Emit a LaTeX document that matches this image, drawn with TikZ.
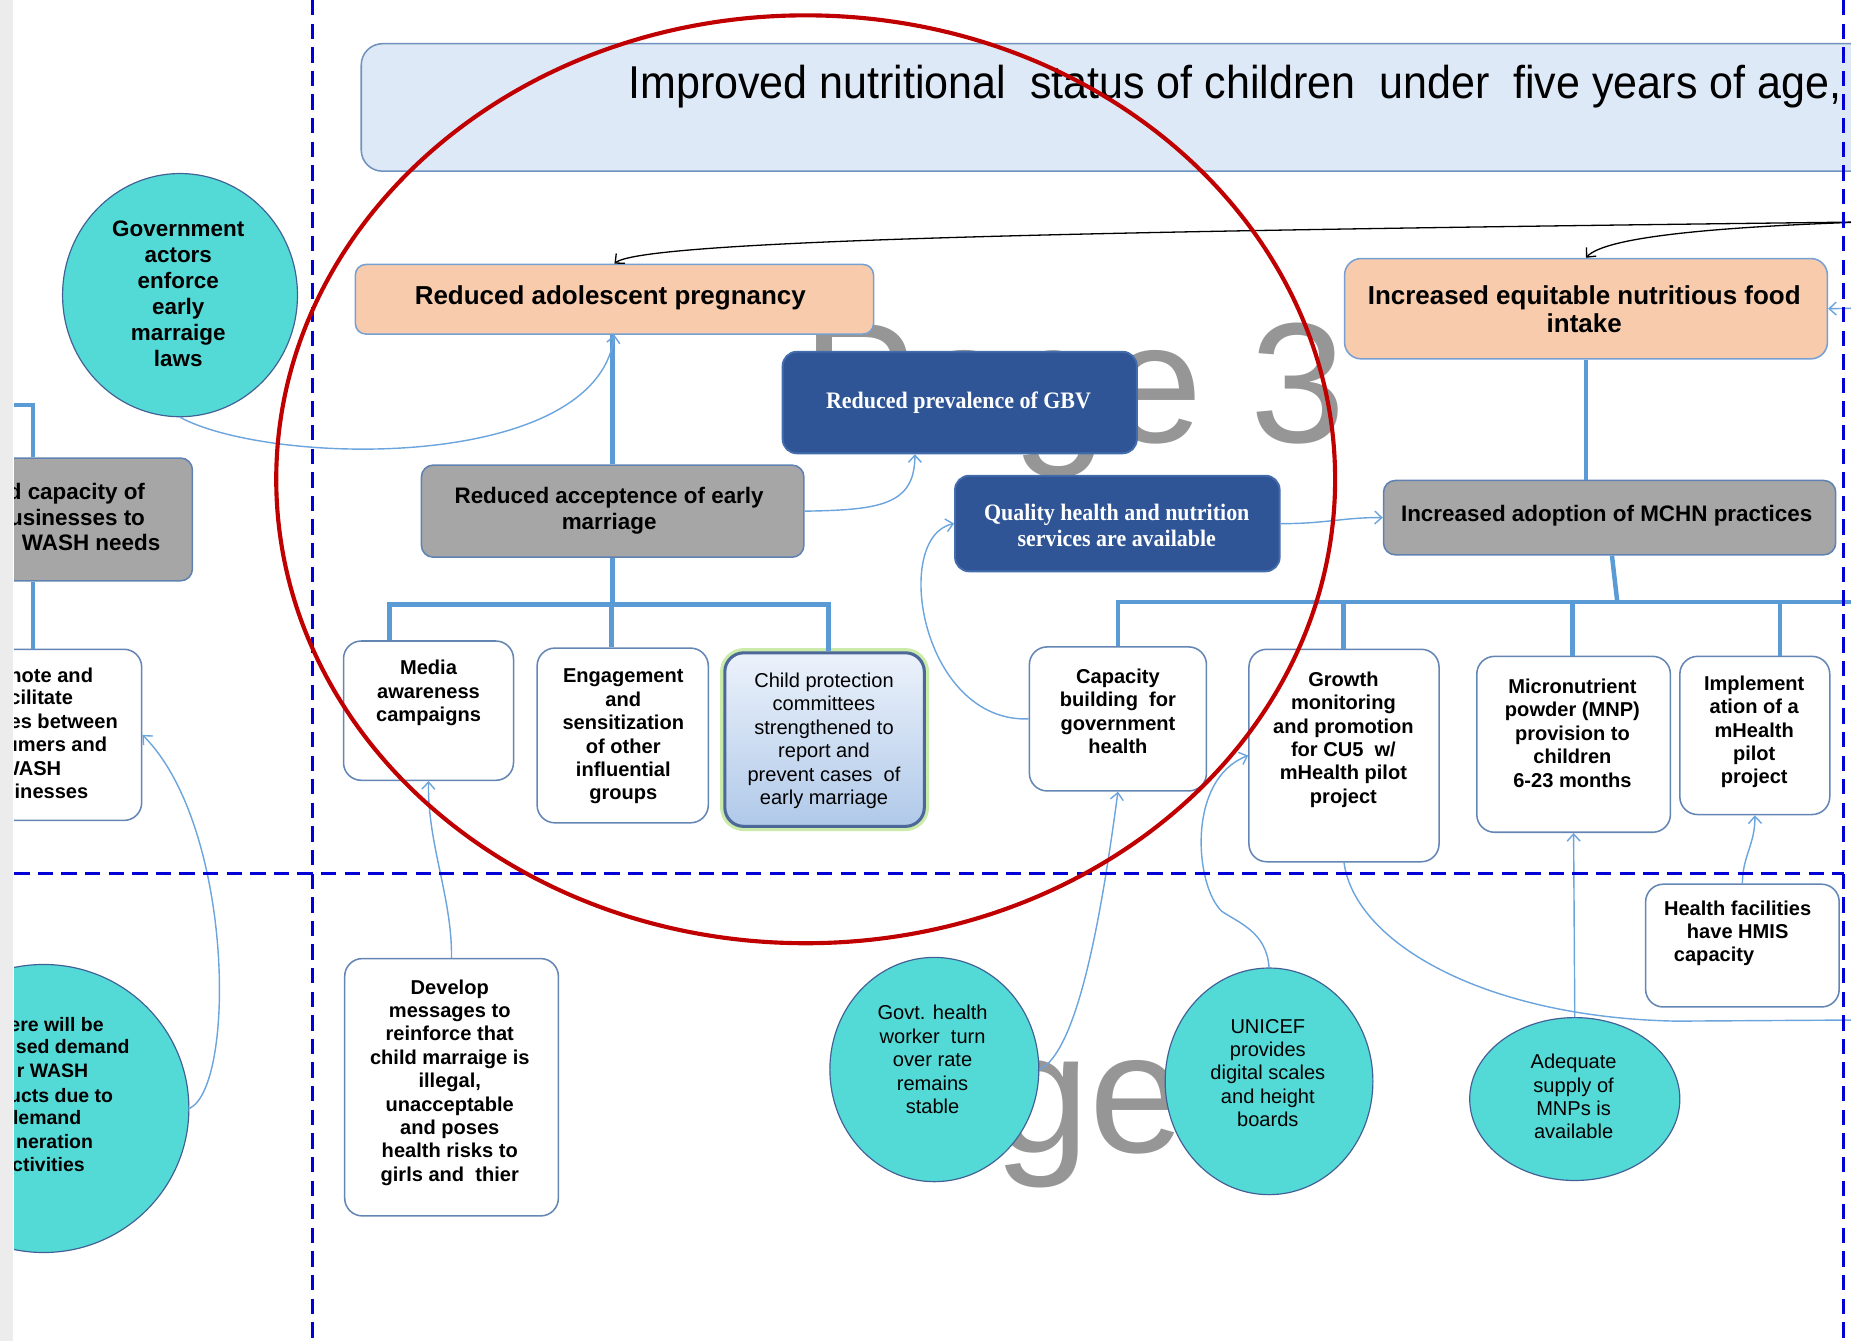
\documentclass[tikz,border=0pt]{standalone}
\usepackage{graphicx}
\usepackage{fontspec}
\setmainfont{Liberation Sans}
\newfontfamily\gbvfont{Liberation Serif}
\usetikzlibrary{shapes.geometric,arrows.meta}

\definecolor{cyanfill}{RGB}{84,218,214}
\definecolor{cyanline}{RGB}{66,96,150}
\definecolor{boxline}{RGB}{100,134,180}
\definecolor{peach}{RGB}{248,203,173}
\definecolor{peachline}{RGB}{118,160,210}
\definecolor{greyfill}{RGB}{166,166,166}
\definecolor{greyline}{RGB}{96,130,178}
\definecolor{navy}{RGB}{47,85,151}
\definecolor{navyline}{RGB}{68,108,172}
\definecolor{branch}{RGB}{91,155,213}
\definecolor{thinlink}{RGB}{108,164,222}
\definecolor{divider}{RGB}{0,0,215}
\definecolor{ring}{RGB}{192,0,0}
\definecolor{bannerfill}{RGB}{221,233,246}
\definecolor{bannerline}{RGB}{112,146,190}
\definecolor{watermark}{RGB}{150,150,150}
\definecolor{cpline}{RGB}{76,104,152}
\definecolor{cptop}{RGB}{236,242,251}
\definecolor{cpbottom}{RGB}{176,201,233}
\definecolor{glow}{RGB}{184,228,140}
\definecolor{strip}{RGB}{236,236,236}

\tikzset{
  boxbase/.style={inner sep=0pt, line width=1.3pt},
  whitebox/.style={boxbase, draw=boxline, fill=white, rounded corners=15pt},
  greybox/.style={boxbase, draw=greyline, fill=greyfill, rounded corners=10pt},
  peachbox/.style={boxbase, draw=peachline, fill=peach, rounded corners=9pt},
  navybox/.style={boxbase, draw=navyline, fill=navy, rounded corners=12pt, line width=1.6pt},
  bubble/.style={ellipse, inner sep=0pt, draw=cyanline, fill=cyanfill, line width=1pt},
  txtnode/.style={inner sep=0pt, align=center, text=black},
  boldtext/.style={txtnode, font=\bfseries\fontsize{17}{19.8}\selectfont},
  plaintext/.style={txtnode, font=\fontsize{17}{19.8}\selectfont},
  headtext/.style={txtnode, font=\bfseries\fontsize{22}{24}\selectfont},
  midtext/.style={txtnode, font=\bfseries\fontsize{19}{22}\selectfont},
  serifwhite/.style={txtnode, text=white, font=\gbvfont\bfseries\fontsize{20}{22}\selectfont},
  branchline/.style={draw=branch, line width=3.8pt, line join=miter},
  link/.style={draw=thinlink, line width=1.2pt, -{Straight Barb[length=6pt,width=11pt]}},
  plainlink/.style={draw=thinlink, line width=1.2pt},
  blacklink/.style={draw=black, line width=1.1pt, -{Straight Barb[length=6pt,width=11pt]}},
  divide/.style={draw=divider, line width=2.6pt, dash pattern=on 13pt off 7pt},
  faint/.style={anchor=base west, inner sep=0pt, text=watermark, font=\fontsize{145}{145}\selectfont},
}

\begin{document}
\begin{tikzpicture}[x=1pt,y=-1pt]
\useasboundingbox (0,0) rectangle (1568,1136);
\fill[strip] (0,0) rectangle (11,1136);

\begin{scope}
\clip (12,0) rectangle (1568,1136);

% page watermarks behind everything
\node[faint] (wm-top) at (680,375) {Page 3};
\node[faint] (wm-bottom) at (842,976) {ge};

% goal banner
\node[boxbase, draw=bannerline, fill=bannerfill, rounded corners=18pt,
      minimum width=1300pt, minimum height=108pt] (goal) at (956,91) {};
\node[anchor=west, inner sep=0pt, font=\fontsize{39}{40}\selectfont] (goal-t) at (532,73)
  {\scalebox{0.935}[1]{Improved nutritional\ \ status of children\ \ under\ \ five years of age,}};

% outcome boxes
\node[peachbox, minimum width=439pt, minimum height=59pt] (adol) at (520.5,253.5) {};
\node[peachbox, rounded corners=14pt, minimum width=409pt, minimum height=85pt] (food) at (1343.5,261.5) {};
\node[navybox, minimum width=300pt, minimum height=86pt] (gbv) at (813,341) {};
\node[navybox, minimum width=275pt, minimum height=81pt] (qual) at (946.5,443.5) {};
\node[greybox, minimum width=324pt, minimum height=78pt] (accept) at (519,433) {};
\node[greybox, minimum width=383pt, minimum height=63pt] (mchn) at (1363.5,438.5) {};
\node[greybox, minimum width=223pt, minimum height=104pt] (lcap) at (51.5,440) {};

% activity boxes
\node[whitebox, minimum width=180pt, minimum height=145pt] (lprom) at (30,622.5) {};
\node[whitebox, minimum width=144pt, minimum height=118pt] (media) at (363,602) {};
\node[whitebox, minimum width=145pt, minimum height=148pt] (engage) at (527.5,623) {};
\node[boxbase, draw=glow, line width=8pt, rounded corners=16pt, opacity=0.75,
      minimum width=169pt, minimum height=147pt] (child-glow) at (698.5,626.5) {};
\node[boxbase, draw=cpline, line width=2.6pt, rounded corners=16pt, top color=cptop, bottom color=cpbottom,
      minimum width=169pt, minimum height=147pt] (child) at (698.5,626.5) {};
\node[whitebox, minimum width=150pt, minimum height=122pt] (capac) at (947,609) {};
\node[whitebox, minimum width=161pt, minimum height=180pt] (growth) at (1138.5,640) {};
\node[whitebox, minimum width=164pt, minimum height=149pt] (micro) at (1333,630.5) {};
\node[whitebox, minimum width=127pt, minimum height=134pt] (impl) at (1486.5,623) {};
\node[whitebox, minimum width=164pt, minimum height=104pt] (hmis) at (1476,801) {};
\node[whitebox, minimum width=181pt, minimum height=218pt] (develop) at (382.5,921) {};

% assumption bubbles
\node[bubble, minimum width=199pt, minimum height=206pt] (govact) at (152.5,250) {};
\node[bubble, minimum width=246pt, minimum height=244pt] (lwash) at (37,939) {};
\node[bubble, minimum width=177pt, minimum height=190pt] (govt) at (791.5,906) {};
\node[bubble, minimum width=176pt, minimum height=192pt] (unicef) at (1075,916) {};
\node[bubble, minimum width=178pt, minimum height=138pt] (adeq) at (1334,931) {};

% branch lines
\coordinate (tl) at (330,512);
\coordinate (tm) at (518,512);
\coordinate (tr) at (702,512);
\draw[branchline] (accept.south) -- (accept.south |- tm);
\draw[branchline] (tl |- media.north) -- (tl) -- (tr) -- (tr |- child.north);
\draw[branchline] (tm) -- (tm |- engage.north);
\draw[branchline] (accept.north) -- (accept.north |- adol.south);
\draw[branchline] (food.south) -- (food.south |- mchn.north);

\coordinate (r0) at (947,510);
\coordinate (r1) at (1138,510);
\coordinate (r2) at (1332,510);
\coordinate (r3) at (1508,510);
\coordinate (rm) at (1370,510);
\coordinate (rend) at (1580,510);
\draw[branchline] (capac.north) -- (r0) -- (rend);
\draw[branchline] ([xshift=2pt]mchn.south) -- (rm);
\draw[branchline] (r1) -- (r1 |- growth.north);
\draw[branchline] (r2) -- (r2 |- micro.north);
\draw[branchline] (r3) -- (r3 |- impl.north);

\coordinate (lk0) at (0,343);
\coordinate (lk) at (28,343);
\draw[branchline] (lk0) -- (lk) -- (lk |- lcap.north);
\draw[branchline] (lk |- lcap.south) -- (lk |- lprom.north);

% thin causal links
\coordinate (gbvx) at (775,0);
\draw[link] (govact.south) .. controls (230,395) and (505,400) .. (adol.south);
\draw[link] (accept.east) .. controls (745,432) and (775,428) .. (gbv.south -| gbvx);
\draw[link] (qual.east) .. controls (1120,444) and (1140,438) .. (mchn.west);
\draw[link] (capac.west) .. controls (780,612) and (755,455) .. (qual.west);
\draw[link] (develop.north) .. controls (383,760) and (362,715) .. (media.south);
\draw[link] (govt.east) .. controls (915,890) and (935,760) .. (capac.south);
\draw[link] (unicef.north) .. controls (1073,790) and (1050,782) .. (1035,772)
            .. controls (1012,750) and (1005,660) .. (growth.west);
\draw[link] (adeq.north) -- (micro.south);
\draw[link] (hmis.north) .. controls (1476,725) and (1487,715) .. (impl.south);
\draw[link] (lwash.east) .. controls (200,920) and (198,700) .. (lprom.east);
\coordinate (edgeR) at (1580,864);
\draw[plainlink] (growth.south) .. controls (1148,800) and (1260,862) .. (1420,865) -- (edgeR);
\coordinate (foodsrc) at (1580,261);
\draw[link] (foodsrc) -- (food.east);

\coordinate (topsrc) at (1580,188);
\draw[blacklink] (topsrc) .. controls (1000,195) and (545,202) .. (adol.north);
\draw[blacklink] (topsrc) .. controls (1460,192) and (1360,200) .. (food.north);

% texts
\node[headtext] (adol-t) at (517,252) {Reduced adolescent pregnancy};
\node[headtext] (food-t) at (1342,262) {Increased equitable nutritious food\\intake};
\node[serifwhite] (gbv-t) at (812,341) {\scalebox{0.93}[1]{Reduced prevalence of GBV}};
\node[serifwhite] (qual-t) at (946,445) {\scalebox{0.93}[1]{Quality health and nutrition}\\\scalebox{0.93}[1]{services are available}};
\node[midtext] (accept-t) at (516,433) {Reduced acceptence of early\\marriage};
\node[midtext] (mchn-t) at (1361,437) {Increased adoption of MCHN\ practices};
\node[midtext] (govact-t) at (151,249) {Government\\actors\\enforce\\early\\marraige\\laws};

\node[midtext, anchor=base east] (lcap-a) at (123,423) {d capacity of};
\node[midtext, anchor=base east] (lcap-b) at (123,445) {usinesses to};
\node[midtext, anchor=base east] (lcap-c) at (136,466) {WASH\ needs};

\foreach \txt/\xx/\yy [count=\i] in {note and/79/578,cilitate/62/597,es between/100/617,umers and/91/637,WASH/52/657,inesses/75/676}
  \node[boldtext, anchor=base east] (prom-\i) at (\xx,\yy) {\txt};

\foreach \txt/\xx/\yy [count=\i] in {ere will be/88/873.5,sed demand/110/892.5,r WASH/75/912.5,ucts due to/96/933.5,lemand/69/952.5,neration/79/972.5,ctivities/72/992.5}
  \node[boldtext, anchor=base east, font=\bfseries\fontsize{16.5}{19.8}\selectfont] (wash-\i) at (\xx,\yy) {\txt};

\node[boldtext] (media-t) at (363,587) {Media\\awareness\\campaigns};
\node[boldtext] (engage-t) at (528,624) {Engagement\\and\\sensitization\\of other\\influential\\groups};
\node[plaintext] (child-t) at (698,627.5) {Child protection\\committees\\strengthened to\\report and\\prevent cases\ \ of\\early marriage};
\node[boldtext] (capac-t) at (947,602.5) {Capacity\\building\ \ for\\government\\health};
\node[boldtext] (growth-t) at (1138,626.5) {Growth\\monitoring\\and promotion\\for CU5\ \ w/\\mHealth pilot\\project};
\node[boldtext] (micro-t) at (1332,621) {Micronutrient\\powder (MNP)\\provision to\\children\\6-23 months};
\node[boldtext] (impl-t) at (1486,620) {Implement\\ation of a\\mHealth\\pilot\\project};
\node[boldtext] (hmis-t) at (1472,790.5) {Health facilities\\have HMIS\\capacity\hspace*{40pt}};
\node[boldtext] (develop-t) at (381,917) {Develop\\messages to\\reinforce that\\child marraige is\\illegal,\\unacceptable\\and poses\\health risks to\\girls and\ \ thier};
\node[plaintext] (govt-t) at (790,897.5) {Govt. health\\worker\ \ turn\\over rate\\remains\\stable};
\node[plaintext] (unicef-t) at (1074,909) {UNICEF\\provides\\digital scales\\and height\\boards};
\node[plaintext] (adeq-t) at (1333,929) {Adequate\\supply of\\MNPs is\\available};

% quadrant dividers
\coordinate (dvA) at (265,0);
\coordinate (dvB) at (265,1136);
\coordinate (dvC) at (1562,0);
\coordinate (dvD) at (1562,1136);
\coordinate (dhA) at (12,740);
\coordinate (dhB) at (1562,740);
\draw[divide] (dvA) -- (dvB);
\draw[divide] (dvC) -- (dvD);
\draw[divide] (dhA) -- (dhB);

% highlight ring
\node[ellipse, draw=ring, line width=3.5pt, inner sep=0pt, minimum width=897pt, minimum height=786pt] (focus) at (682.5,406) {};
\end{scope}
\end{tikzpicture}
\end{document}
